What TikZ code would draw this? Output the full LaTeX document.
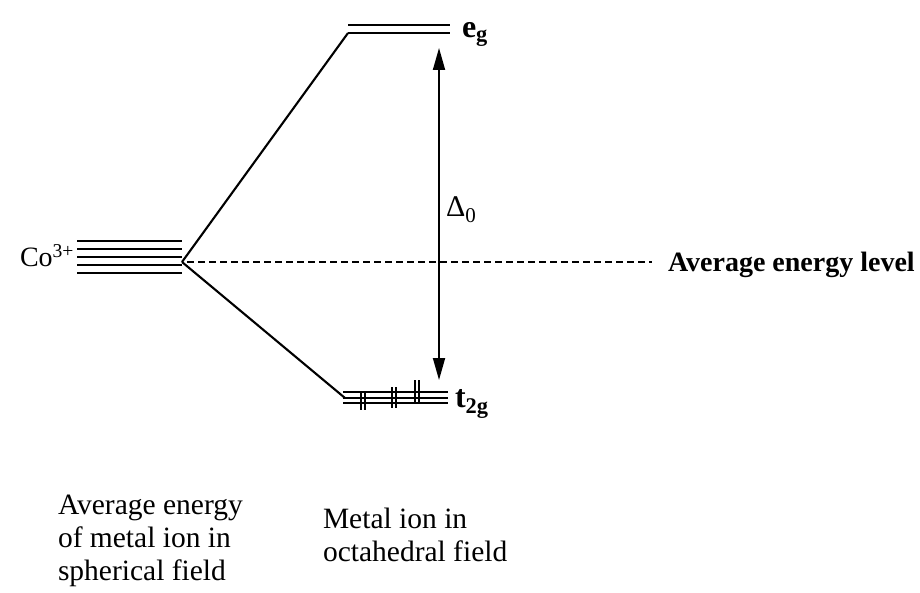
\documentclass[tikz,border=0pt]{standalone}
\usepackage{fontspec}
\setmainfont{Liberation Serif}
\usetikzlibrary{arrows.meta}
\begin{document}
\begin{tikzpicture}[x=1pt,y=-1pt,
  level/.style={line width=2.2pt},
  conn/.style={line width=2.1pt},
  spin/.style={line width=1.6pt},
  lbl/.style={anchor=base west,inner sep=0pt,outer sep=0pt},
  cofont/.style={font=\fontsize{28}{32}\selectfont},
  big/.style={font=\fontsize{32}{36}\selectfont},
  mid/.style={font=\fontsize{30}{34}\selectfont},
  small/.style={font=\fontsize{29.5}{34}\selectfont},
  avg/.style={font=\fontsize{28}{32}\selectfont\bfseries},
  dblarrow/.style={line width=1.8pt,{Triangle[length=22pt,width=12pt]}-{Triangle[length=22pt,width=12pt]}}]
\useasboundingbox (0,0) rectangle (920,593);
% free-ion levels
\node[lbl,cofont] (co) at (20,267) {Co\textsuperscript{3+}};
\foreach \y in {241,249,257,265,273} \draw[level] (77,\y) -- (182,\y);
\coordinate (split) at (182,262);
% eg
\coordinate (egA) at (348,25); \coordinate (egB) at (348,33);
\draw[level] (egA) -- (450,25);
\draw[level] (egB) -- (450,33);
\node[lbl,big] (eg) at (462,38) {\textbf{e\textsubscript{g}}};
% t2g
\coordinate (tA) at (343,392); \coordinate (tB) at (343,398); \coordinate (tC) at (343,403);
\draw[level] (tA) -- (448,392);
\draw[level] (tB) -- (448,398);
\draw[level] (tC) -- (448,403);
\node[lbl,big] (t2g) at (455,407) {\textbf{t\textsubscript{2g}}};
% electron pairs
\foreach \x/\a/\b in {361/392/410, 392/387/408, 415/380/403} {
  \draw[spin] (\x,\a) -- (\x,\b);
  \draw[spin] ({\x+4},\a) -- ({\x+4},\b);
}
% connectors
\draw[conn] (split) -- (egB);
\draw[conn] (split) -- (345,398);
\draw[line width=1.2pt,dash pattern=on 7pt off 4pt] (split) ++(5,0) -- (652,262);
\node[lbl,avg] (avglevel) at (668,272) {Average energy level};
% Delta
\coordinate (dtop) at (439,48); \coordinate (dbot) at (439,380);
\draw[dblarrow] (dtop) -- (dbot);
\node[lbl,mid] (delta) at (446,217) {Δ\textsubscript{0}};
% bottom labels
\node[lbl,small] (sph1) at (58,514) {Average energy};
\node[lbl,small] (sph2) at (58,547) {of metal ion in};
\node[lbl,small] (sph3) at (58,580) {spherical field};
\node[lbl,small] (oct1) at (323,528) {Metal ion in};
\node[lbl,small] (oct2) at (323,561) {octahedral field};
\end{tikzpicture}
\end{document}
